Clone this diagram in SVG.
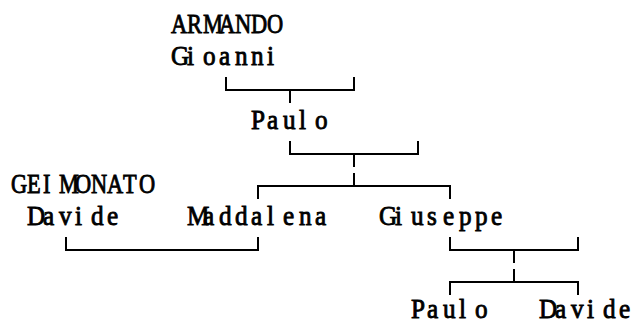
<svg xmlns="http://www.w3.org/2000/svg" width="638" height="323" viewBox="0 0 638 323">
<style>
  text { font-family: "Liberation Serif", "DejaVu Serif", serif; font-size: 28px; fill: #000; stroke: #000; stroke-width: 0.9; }
  .caps { transform: scale(0.8, 1); }
  .mixed { transform: scale(0.9, 1); }
  .c path { fill: none; stroke: #000; stroke-width: 2; }
</style>
<rect width="638" height="323" fill="#fff"/>
<g id="armando-gioanni">
  <text class="caps" x="213.75 233.75 253.75 273.75 293.75 313.75 333.75" y="33">ARMANDO</text>
  <text class="mixed" x="190 207.78 225.56 243.33 261.11 278.89 296.67" y="65">Gioanni</text>
</g>
<g id="paulo-1">
  <text class="mixed" x="278.89 296.67 314.44 332.22 350" y="129">Paulo</text>
</g>
<g id="geimonato-davide">
  <text class="caps" x="13.75 33.75 53.75 73.75 93.75 113.75 133.75 153.75 173.75" y="193">GEIMONATO</text>
  <text class="mixed" x="30 47.78 65.56 83.33 101.11 118.89" y="225">Davide</text>
</g>
<g id="maddalena">
  <text class="mixed" x="207.78 225.56 243.33 261.11 278.89 296.67 314.44 332.22 350" y="225">Maddalena</text>
</g>
<g id="giuseppe">
  <text class="mixed" x="421.11 438.89 456.67 474.44 492.22 510 527.78 545.56" y="225">Giuseppe</text>
</g>
<g id="paulo-2">
  <text class="mixed" x="456.67 474.44 492.22 510 527.78" y="318">Paulo</text>
</g>
<g id="davide-2">
  <text class="mixed" x="598.89 616.67 634.44 652.22 670 687.78" y="318">Davide</text>
</g>
<g id="connectors" class="c">
  <path d="M226 77 V90 H354 V77 M290 90 V103"/>
  <path d="M290 141 V154 H418 V141 M354 154 V167"/>
  <path d="M258 199 V186 H450 V199 M354 186 V173"/>
  <path d="M66 237 V250 H258 V237"/>
  <path d="M450 237 V250 H578 V237 M514 250 V263"/>
  <path d="M450 295 V282 H578 V295 M514 282 V269"/>
</g>
</svg>
